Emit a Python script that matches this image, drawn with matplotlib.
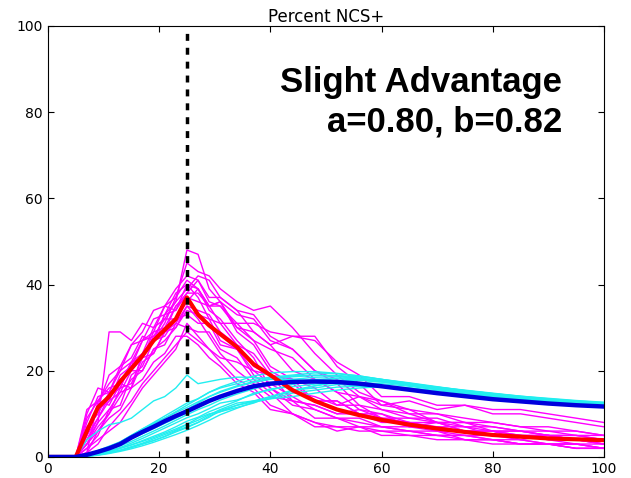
import matplotlib
matplotlib.use('Agg')
import matplotlib.pyplot as plt

# common x grid (time steps)
x = [0, 5, 7, 9, 11, 13, 15, 17, 19, 21, 23, 25, 27, 29, 31, 34, 37, 40,
     44, 48, 52, 56, 60, 65, 70, 75, 80, 85, 90, 95, 100]

# individual runs, one group (magenta)
magenta_runs = [
    [0, 0, 1, 13, 12, 17, 16, 24, 27, 33, 36, 48, 47, 39, 36, 30, 27, 21, 18, 16, 12, 12, 9, 8, 7, 7, 5, 5, 4, 3, 3],
    [0, 0, 3, 8, 29, 29, 27, 31, 30, 35, 34, 40, 39, 35, 36, 29, 26, 20, 17, 13, 13, 10, 10, 7, 8, 6, 6, 4, 5, 4, 3],
    [0, 0, 8, 14, 15, 21, 23, 28, 27, 33, 34, 38, 41, 36, 35, 31, 31, 29, 28, 28, 21, 17, 12, 11, 8, 8, 7, 6, 6, 5, 4],
    [0, 0, 2, 5, 11, 12, 19, 21, 27, 28, 32, 33, 31, 31, 26, 25, 19, 16, 12, 11, 9, 9, 7, 7, 6, 5, 5, 4, 3, 3, 2],
    [0, 0, 10, 16, 15, 20, 22, 27, 28, 32, 32, 36, 39, 34, 32, 27, 23, 16, 13, 9, 9, 7, 7, 6, 6, 4, 4, 3, 3, 2, 2],
    [0, 0, 4, 9, 13, 15, 20, 20, 25, 26, 31, 30, 29, 29, 25, 23, 18, 15, 10, 8, 6, 7, 5, 5, 4, 4, 3, 3, 3, 2, 2],
    [0, 0, 6, 12, 19, 21, 26, 29, 34, 35, 39, 42, 41, 37, 37, 34, 33, 28, 25, 20, 17, 12, 11, 9, 9, 7, 7, 6, 5, 5, 4],
    [0, 0, 3, 7, 10, 16, 17, 23, 24, 29, 31, 35, 34, 33, 29, 26, 21, 19, 15, 14, 12, 14, 12, 13, 11, 12, 11, 11, 10, 9, 8],
    [0, 0, 7, 10, 15, 16, 22, 23, 29, 30, 35, 37, 36, 35, 31, 31, 27, 25, 23, 18, 15, 11, 10, 8, 8, 6, 6, 5, 5, 4, 4],
    [0, 0, 5, 9, 14, 16, 22, 24, 30, 32, 36, 39, 42, 41, 37, 34, 29, 26, 20, 18, 15, 14, 11, 10, 8, 8, 6, 6, 5, 4, 4],
    [0, 0, 1, 3, 7, 10, 13, 17, 20, 23, 26, 29, 27, 25, 22, 18, 16, 12, 10, 8, 7, 7, 6, 6, 5, 5, 4, 4, 3, 3, 2],
    [0, 0, 9, 13, 16, 17, 22, 23, 28, 29, 35, 38, 38, 35, 36, 33, 32, 27, 25, 20, 18, 14, 13, 10, 10, 8, 8, 7, 7, 6, 5],
    [0, 0, 4, 8, 11, 15, 16, 22, 24, 29, 30, 34, 33, 32, 27, 25, 20, 19, 13, 12, 10, 10, 8, 8, 6, 6, 5, 5, 4, 4, 3],
    [0, 0, 6, 11, 13, 19, 21, 27, 29, 35, 37, 41, 39, 35, 35, 30, 29, 26, 28, 27, 22, 19, 14, 14, 12, 12, 10, 10, 9, 8, 7],
    [0, 0, 3, 6, 9, 11, 16, 18, 22, 24, 28, 28, 26, 23, 21, 17, 15, 11, 10, 7, 7, 6, 6, 5, 5, 4, 4, 3, 3, 3, 2],
    [0, 0, 11, 13, 17, 20, 26, 27, 32, 33, 38, 40, 37, 32, 31, 26, 24, 19, 18, 13, 13, 10, 9, 7, 7, 6, 6, 5, 5, 4, 3],
    [0, 0, 2, 4, 6, 8, 12, 16, 19, 22, 25, 31, 28, 25, 23, 22, 20, 17, 14, 11, 9, 8, 7, 6, 5, 5, 4, 3, 3, 2, 2],
    [0, 0, 5, 12, 14, 18, 20, 23, 27, 31, 37, 45, 43, 42, 39, 36, 34, 35, 30, 24, 19, 15, 13, 11, 10, 9, 8, 7, 6, 6, 5],
    [0, 0, 1, 6, 10, 14, 18, 20, 25, 27, 30, 35, 32, 28, 24, 20, 17, 14, 13, 12, 10, 11, 9, 9, 8, 7, 6, 6, 5, 5, 5],
]

# individual runs, other group (cyan)
cyan_runs = [
    [0, 0, 4, 6, 7.5, 8, 9, 11, 13, 14, 16, 19, 17, 17.5, 18, 18.5, 18.5, 18, 18, 17.5, 17.5, 17, 16.5, 16, 15, 14.5, 14, 13.5, 13, 12.5, 12],
    [0, 0, 0.5, 1.5, 2.5, 3.5, 5, 6.5, 8, 9.5, 11, 12.5, 13.5, 15, 16, 17, 18, 18.5, 19, 19.5, 19.3, 18.8, 18, 17, 16, 15.2, 14.6, 14, 13.4, 12.9, 12.5],
    [0, 0, 0.2, 0.5, 1, 1.5, 2.2, 3, 3.8, 4.8, 6, 7, 8, 9.5, 10.5, 12, 13, 14, 15.2, 16.5, 17.2, 17.3, 17, 16.4, 15.6, 14.8, 14, 13.3, 12.7, 12.2, 11.8],
    [0, 0, 0.3, 0.7, 1.2, 2, 2.8, 3.8, 4.8, 5.8, 7, 8.3, 9.2, 10.5, 11.5, 13, 14.8, 15.5, 16.8, 17.8, 18.3, 18.2, 17.6, 16.8, 16, 15.1, 14.4, 13.7, 13.1, 12.6, 12.2],
    [0, 0, 0.2, 0.5, 1, 1.6, 2.4, 3.2, 4.2, 5.2, 6.2, 7.5, 8.5, 9.8, 11, 12.5, 13, 13.5, 14.8, 15.5, 16.2, 16.4, 16.2, 15.6, 14.9, 14.2, 13.5, 12.9, 12.4, 11.9, 11.5],
    [0, 0, 0.5, 1.1, 2, 3.2, 4.5, 5.8, 7.2, 8.5, 9.5, 11, 12.5, 14, 15.2, 16.5, 17.5, 18.3, 18.8, 19, 18.8, 18.3, 17.6, 16.8, 15.9, 15, 14.3, 13.6, 13, 12.5, 12.1],
    [0, 0, 0.3, 0.7, 1.3, 2, 2.8, 3.6, 4.5, 5.5, 6.5, 7.6, 9, 10, 10.5, 11.5, 12.5, 14, 15.5, 16, 16.8, 16.5, 16.2, 15.5, 14.8, 14.1, 13.5, 13, 12.5, 12.1, 11.8],
    [0, 0, 0.4, 1, 1.9, 3, 4.2, 5.4, 6.6, 7.8, 9, 10.3, 11.6, 12.8, 13.9, 15.2, 16.3, 17.2, 18, 18.5, 18.6, 18.3, 17.7, 17, 16.1, 15.3, 14.6, 13.9, 13.3, 12.8, 12.4],
    [0, 0, 0.2, 0.5, 0.9, 1.5, 2.2, 3, 3.8, 4.7, 5.8, 6.8, 8, 9.2, 10.8, 12, 12.8, 13.8, 15.5, 16.5, 17.5, 17.8, 17.4, 16.6, 15.7, 14.9, 14.1, 13.4, 12.8, 12.3, 11.9],
    [0, 0, 0.6, 1.3, 2.3, 3.5, 5, 6.5, 7.8, 9, 10.3, 11.5, 12.8, 14, 15, 16.3, 17.3, 18, 18.6, 18.9, 18.9, 18.6, 18, 17.2, 16.3, 15.4, 14.7, 14, 13.4, 12.9, 12.5],
    [0, 0, 0.3, 0.8, 1.4, 2.2, 3.2, 4.3, 5.5, 6.7, 7.9, 9.1, 10, 11.2, 12.5, 13.2, 14.5, 15.8, 16.3, 16.9, 17.6, 17.9, 17.5, 16.9, 16.2, 15.5, 14.8, 14.1, 13.5, 13, 12.6],
    [0, 0, 0.4, 0.9, 1.7, 2.6, 3.6, 4.8, 6, 7.2, 8.5, 9.8, 11, 12, 13.2, 14.6, 15.8, 16.8, 17.6, 18, 18.1, 17.9, 17.4, 16.7, 15.9, 15.2, 14.5, 13.8, 13.2, 12.7, 12.3],
    [0, 0, 0.1, 0.4, 0.8, 1.3, 1.9, 2.6, 3.4, 4.3, 5.2, 6.2, 7.3, 8.5, 9.8, 11.3, 12.7, 13.5, 14, 14.8, 15.5, 16, 16.3, 16, 15.4, 14.7, 14, 13.3, 12.7, 12.2, 11.8],
    [0, 0, 0.5, 1.2, 2.2, 3.4, 4.8, 6.2, 7.6, 9, 10.5, 12, 13.5, 15, 16.2, 17.5, 18.8, 19.5, 19.8, 19.8, 19.4, 18.8, 18, 17.1, 16.2, 15.4, 14.7, 14.1, 13.6, 13.1, 12.7],
]

# group averages
red_mean = [0, 0, 6, 11.5, 14, 17.5, 20.5, 23.5, 27, 29.5, 32, 37, 33, 30.5, 28.5, 25.5, 21.5, 19, 15.5,
            13, 11, 9.7, 8.6, 7.5, 6.6, 5.8, 5.1, 4.7, 4.3, 4.1, 3.9]
blue_mean = [0, 0, 0.5, 1.2, 2, 3, 4.5, 5.8, 7, 8.3, 9.5, 10.6, 11.8, 13, 14, 15.3, 16.4, 17, 17.4,
             17.5, 17.4, 17, 16.4, 15.6, 14.8, 14.1, 13.4, 12.9, 12.4, 12, 11.7]

switch_time = 25

fig = plt.figure(figsize=(6.31, 4.78), dpi=100)
ax = fig.add_axes([0.076, 0.044, 0.881, 0.902])

for run in magenta_runs:
    ax.plot(x, run, color='#ff00ff', linewidth=1)
for run in cyan_runs:
    ax.plot(x, run, color='#22eef0', linewidth=1)

ax.plot(x, red_mean, color='red', linewidth=3)
ax.plot(x, blue_mean, color='#0000dd', linewidth=3.2)

ax.axvline(switch_time, color='black', linewidth=2.5, linestyle=(0, (2, 2)))

ax.set_xlim(0, 100)
ax.set_ylim(0, 100)
ax.set_xticks([0, 20, 40, 60, 80, 100])
ax.set_yticks([0, 20, 40, 60, 80, 100])
ax.tick_params(direction='in', top=True, right=True, labelsize=10, length=4)
ax.set_title('Percent NCS+', fontsize=12, pad=3)

ax.text(92.5, 84.7, 'Slight Advantage', ha='right', va='baseline',
        fontsize=25, fontweight='bold', family='Liberation Sans')
ax.text(92.5, 75.4, 'a=0.80, b=0.82', ha='right', va='baseline',
        fontsize=25, fontweight='bold', family='Liberation Sans')

fig.savefig('out.png', dpi=100)
